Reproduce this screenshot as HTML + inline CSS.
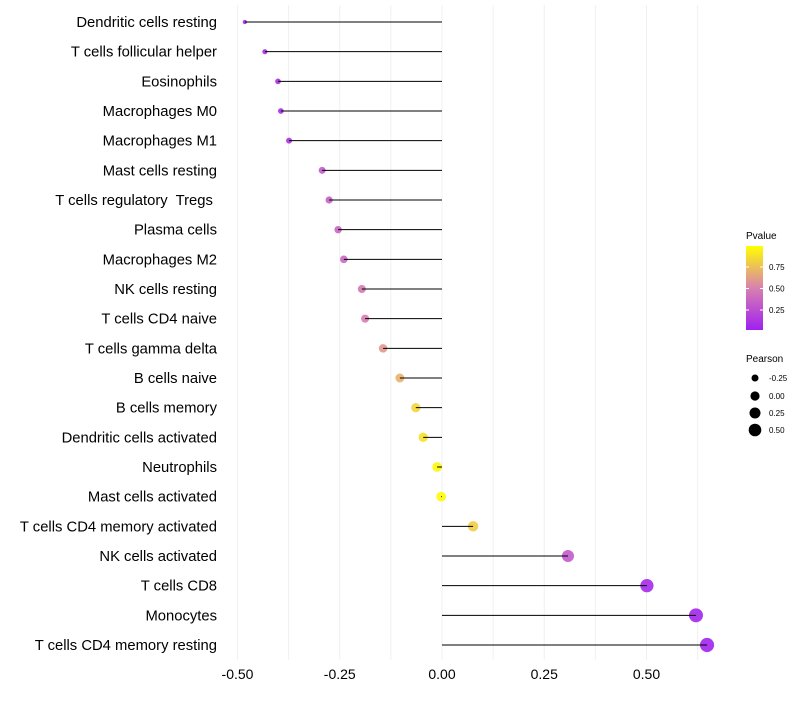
<!DOCTYPE html>
<html><head><meta charset="utf-8"><style>
body{margin:0;background:#fff;font-family:"Liberation Sans",sans-serif;}
svg text{font-family:"Liberation Sans",sans-serif;white-space:pre;}
</style></head><body>
<svg id="chart" width="800" height="700" xmlns="http://www.w3.org/2000/svg">
<defs><linearGradient id="pg" x1="0" y1="1" x2="0" y2="0">
<stop offset="0" stop-color="#a020f0"/><stop offset="0.5" stop-color="#d880b0"/><stop offset="1" stop-color="#ffff00"/>
</linearGradient></defs>
<g id="grid"></g>
<g id="marks"></g>
<g id="axes"></g>
<g>
<text x="746" y="239" font-size="10" fill="#000">Pvalue</text>
<rect x="746" y="246" width="17" height="84" fill="url(#pg)"/>
<line x1="746" x2="749" y1="267" y2="267" stroke="#fff"/><line x1="760" x2="763" y1="267" y2="267" stroke="#fff"/>
<line x1="746" x2="749" y1="288.5" y2="288.5" stroke="#fff"/><line x1="760" x2="763" y1="288.5" y2="288.5" stroke="#fff"/>
<line x1="746" x2="749" y1="310" y2="310" stroke="#fff"/><line x1="760" x2="763" y1="310" y2="310" stroke="#fff"/>
<text x="769" y="270" font-size="8">0.75</text><text x="769" y="291.5" font-size="8">0.50</text><text x="769" y="313" font-size="8">0.25</text>
</g>
<g>
<text x="746" y="362" font-size="10">Pearson</text>
<circle cx="755" cy="378" r="3.5"/><text x="769" y="381" font-size="8">-0.25</text>
<circle cx="755" cy="396" r="4.6"/><text x="769" y="399" font-size="8">0.00</text>
<circle cx="755" cy="413" r="5.5"/><text x="769" y="416" font-size="8">0.25</text>
<circle cx="755" cy="430" r="6.3"/><text x="769" y="433" font-size="8">0.50</text>
</g>
</svg>
<script>
const categories=["Dendritic cells resting","T cells follicular helper","Eosinophils","Macrophages M0","Macrophages M1","Mast cells resting","T cells regulatory  Tregs ","Plasma cells","Macrophages M2","NK cells resting","T cells CD4 naive","T cells gamma delta","B cells naive","B cells memory","Dendritic cells activated","Neutrophils","Mast cells activated","T cells CD4 memory activated","NK cells activated","T cells CD8","Monocytes","T cells CD4 memory resting"];
const pearson=[-0.482,-0.433,-0.401,-0.394,-0.374,-0.293,-0.276,-0.254,-0.240,-0.196,-0.188,-0.144,-0.103,-0.064,-0.046,-0.012,-0.002,0.076,0.308,0.501,0.621,0.648];
const pvalue=[0.05,0.06,0.08,0.09,0.1,0.3,0.33,0.36,0.37,0.46,0.48,0.6,0.7,0.84,0.88,0.97,0.99,0.8,0.3,0.05,0.03,0.02];
const xTicks=[-0.5,-0.25,0,0.25,0.5];
const xTickLabels=["-0.50","-0.25","0.00","0.25","0.50"];
const NS="http://www.w3.org/2000/svg";
const x=v=>442+v*409;
const y=i=>22+i*(623/21);
function mk(t,a,p){const e=document.createElementNS(NS,t);for(const k in a)e.setAttribute(k,a[k]);p.appendChild(e);return e;}
function lerp(a,b,t){return Math.round(a+(b-a)*t);}
function col(p){const s=[[160,32,240],[216,128,176],[255,255,0]];let c0,c1,t;if(p<0.5){c0=s[0];c1=s[1];t=p/0.5;}else{c0=s[1];c1=s[2];t=(p-0.5)/0.5;}return `rgb(${lerp(c0[0],c1[0],t)},${lerp(c0[1],c1[1],t)},${lerp(c0[2],c1[2],t)})`;}
const grid=document.getElementById('grid'),marks=document.getElementById('marks'),axes=document.getElementById('axes');
for(let v=-0.5;v<=0.626;v+=0.125){const g=mk('line',{x1:x(v),x2:x(v),y1:5,y2:660,stroke:'#f0f0f0','stroke-width':1},grid);

}
xTicks.forEach((v,i)=>{const t=mk('text',{x:x(v),y:679,'font-size':14,'text-anchor':'middle',fill:'#000'},axes);t.textContent=xTickLabels[i];

});
categories.forEach((c,i)=>{
const t=mk('text',{x:217,y:y(i)+5,'font-size':14.8,'text-anchor':'end',fill:'#000','xml:space':'preserve'},axes);t.textContent=c;


const r=Math.sqrt(Math.max(2.5,24+40*pearson[i]));
const d=mk('circle',{cx:x(pearson[i]),cy:y(i),r:r,fill:col(pvalue[i]),'fill-opacity':0.9},marks);


const l=mk('line',{x1:x(0),x2:x(pearson[i]),y1:y(i),y2:y(i),stroke:'#000','stroke-width':1},marks);


});
</script>
</body></html>
